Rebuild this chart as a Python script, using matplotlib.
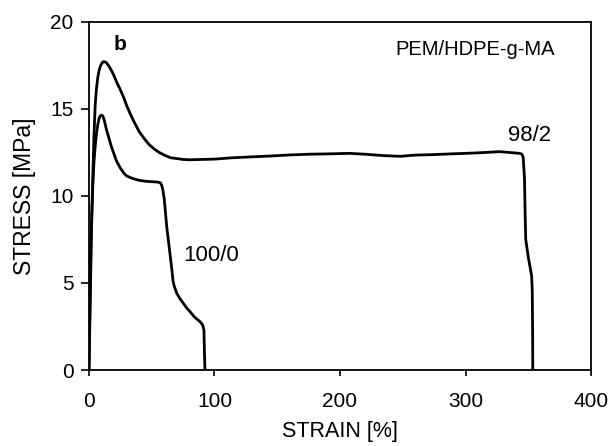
import matplotlib
matplotlib.use("Agg")
import matplotlib.pyplot as plt

plt.rcParams["font.family"] = ["Liberation Sans", "DejaVu Sans"]

# 100/0 sample
strain_100 = [0, 0.5, 1, 1.5, 2, 3, 4, 5, 6, 7, 8, 9, 10, 11, 12, 13, 14, 16, 18, 20,
              22, 25, 28, 30, 35, 40, 45, 50, 55, 57, 58, 59, 60, 61, 62, 63, 64, 65,
              66, 67, 68, 70, 72.5, 75, 78, 80.5, 84, 88.4, 90.5, 91.6, 92, 92.4]
stress_100 = [0, 2.5, 5, 7, 8.5, 10.5, 12, 12.9, 13.6, 14.1, 14.45, 14.6, 14.65, 14.6,
              14.4, 14.1, 13.8, 13.3, 12.8, 12.4, 12.0, 11.6, 11.3, 11.15, 11.0, 10.9,
              10.85, 10.82, 10.8, 10.75, 10.6, 10.3, 9.8, 9.0, 8.2, 7.6, 7.0, 6.4, 5.8,
              5.1, 4.8, 4.4, 4.1, 3.85, 3.55, 3.35, 3.05, 2.78, 2.6, 2.3, 1.0, 0]

# 98/2 sample
strain_98 = [0, 1, 2, 3, 4, 5, 6, 7, 8, 9, 10, 11, 12, 13, 14, 15, 16, 18, 20, 22,
             25, 28, 30, 33, 36, 40, 44, 48, 52, 56, 60, 65, 70, 75, 80, 90, 100, 115,
             130, 145, 160, 175, 190, 208, 220, 235, 248, 260, 275, 288, 300, 310, 320,
             327, 335, 340, 343, 345, 346, 347, 347.5, 348, 349, 350, 351.5, 352.7,
             353.2, 353.5, 353.6]
stress_98 = [0, 4, 8, 11, 13.5, 15.3, 16.2, 16.8, 17.2, 17.45, 17.6, 17.7, 17.72, 17.7,
             17.65, 17.55, 17.45, 17.2, 16.9, 16.55, 16.1, 15.6, 15.2, 14.7, 14.25, 13.7,
             13.3, 12.95, 12.7, 12.5, 12.35, 12.2, 12.15, 12.1, 12.08, 12.1, 12.12, 12.2,
             12.25, 12.3, 12.36, 12.4, 12.42, 12.45, 12.4, 12.32, 12.28, 12.35, 12.38,
             12.42, 12.45, 12.48, 12.52, 12.55, 12.5, 12.47, 12.45, 12.4, 12.2, 11.0,
             9.0, 7.5, 7.0, 6.5, 5.9, 5.4, 4.5, 2.0, 0]

x_ticks = [0, 100, 200, 300, 400]
y_ticks = [0, 5, 10, 15, 20]

fig = plt.figure(figsize=(6.12, 4.46), dpi=100)
ax = fig.add_axes([0.1454, 0.1704, 0.8203, 0.7803])

ax.plot(strain_100, stress_100, color="black", lw=2)
ax.plot(strain_98, stress_98, color="black", lw=2)

ax.set_xlim(0, 400)
ax.set_ylim(0, 20)
ax.set_xticks(x_ticks)
ax.set_yticks(y_ticks)
ax.tick_params(direction="out", width=1.2, labelsize=15, colors="black")
ax.tick_params(axis="x", length=4, pad=12)
ax.tick_params(axis="y", length=6, pad=5)
for s in ax.spines.values():
    s.set_linewidth(1.3)

ax.set_xlabel("STRAIN [%]", fontsize=15.5, labelpad=7)
ax.set_ylabel("STRESS [MPa]", fontsize=16.5, labelpad=10)

ax.text(25, 18.7, "b", fontsize=15, fontweight="bold", ha="center", va="center")
ax.text(371, 18.4, "PEM/HDPE-g-MA", fontsize=14.5, ha="right", va="center")
ax.text(334, 13.5, "98/2", fontsize=16, ha="left", va="center")
ax.text(75, 6.6, "100/0", fontsize=16, ha="left", va="center")

fig.savefig("out.png", dpi=100)
